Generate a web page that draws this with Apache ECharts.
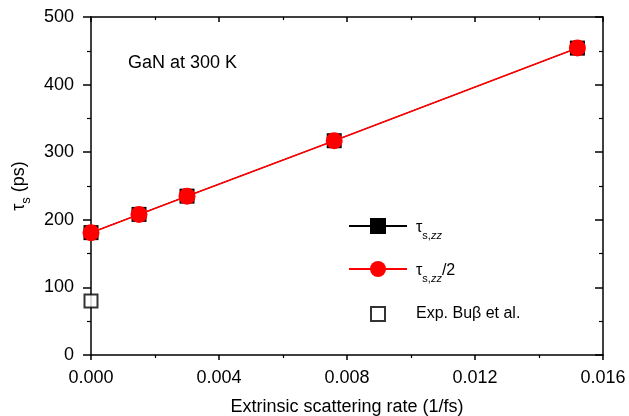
<!DOCTYPE html>
<html>
<head>
<meta charset="utf-8">
<script src="https://cdn.jsdelivr.net/npm/echarts@6/dist/echarts.min.js"></script>
<style>
  html, body { margin: 0; padding: 0; background: #fff; }
  #main { width: 629px; height: 416px; }
</style>
</head>
<body>
<div id="main"></div>
<script>
// 数据
var rates = [0.0, 0.0015, 0.003, 0.0076, 0.0152];
var tauZZ = [181, 208, 235, 317, 454];
var tauZZHalf = [181, 208, 235, 317, 454];
var expRate = [0.0];
var expTau = [80];
var xTicks = ['0.000', '0.004', '0.008', '0.012', '0.016'];

var FONT = 'Liberation Sans';

function pairs(xs, ys) {
    return xs.map(function (x, i) { return [x, ys[i]]; });
}

var myChart = echarts.init(document.getElementById('main'));

// 下标样式
function subRich(size) {
    return {
        t: { fontFamily: FONT, fontSize: size, color: '#000', lineHeight: size + 4, verticalAlign: 'bottom' },
        s: { fontFamily: FONT, fontSize: size - 5, color: '#000', verticalAlign: 'bottom', padding: [0, 0, -5, 0] },
        z: { fontFamily: FONT, fontSize: size - 5, fontStyle: 'italic', color: '#000', verticalAlign: 'bottom', padding: [0, 0, -5, 0] }
    };
}

option = {
    animation: false,
    title: {
        text: 'GaN at 300 K',
        left: 123,
        top: 49,
        textStyle: { fontFamily: FONT, fontSize: 18, fontWeight: 'normal', color: '#000' }
    },
    legend: [{
        data: ['tauZZ', 'tauZZHalf'],
        orient: 'vertical',
        left: 343,
        top: 213,
        itemWidth: 58,
        itemHeight: 20,
        itemGap: 20,
        formatter: function (name) {
            if (name === 'tauZZ') return '{t|τ}{s|s,}{z|zz}';
            return '{t|τ}{s|s,}{z|zz}{t|/2}';
        },
        textStyle: { rich: subRich(16), padding: [0, 0, 0, 4] }
    }, {
        data: ['exp'],
        orient: 'vertical',
        left: 365,
        top: 301,
        itemWidth: 14,
        itemHeight: 14,
        formatter: function () { return 'Exp. Buβ et al.'; },
        textStyle: { fontFamily: FONT, fontSize: 16, color: '#000', padding: [0, 0, 0, 26] }
    }],
    grid: { left: 91, right: 26, top: 17, bottom: 61, outerBoundsMode: 'none' },
    xAxis: [{
        type: 'value',
        min: 0,
        max: 0.016,
        interval: 0.004,
        name: 'Extrinsic scattering rate (1/fs)',
        nameLocation: 'middle',
        nameGap: 43,
        nameTextStyle: { fontFamily: FONT, fontSize: 18, color: '#000' },
        axisLine: { onZero: false, lineStyle: { color: '#000', width: 1.5 } },
        axisTick: { length: 5, lineStyle: { color: '#000', width: 1.5 } },
        minorTick: { show: true, splitNumber: 2, length: 3, lineStyle: { color: '#000', width: 1.2 } },
        axisLabel: {
            margin: 14,
            fontFamily: FONT, fontSize: 18, color: '#000',
            formatter: function (v) { return xTicks[Math.round(v / 0.004)]; }
        },
        splitLine: { show: false }
    }, {
        type: 'value',
        position: 'top',
        min: 0,
        max: 0.016,
        interval: 0.004,
        axisLine: { show: true, onZero: false, lineStyle: { color: '#000', width: 1.5 } },
        axisTick: { inside: true, length: 5, lineStyle: { color: '#000', width: 1.5 } },
        minorTick: { show: true, splitNumber: 2, length: 3, lineStyle: { color: '#000', width: 1.2 } },
        axisLabel: { show: false },
        splitLine: { show: false }
    }],
    yAxis: [{
        type: 'value',
        min: 0,
        max: 500,
        interval: 100,
        name: '{t|τ}{s|s}{t| (ps)}',
        nameLocation: 'middle',
        nameGap: 62,
        nameTextStyle: { rich: subRich(18) },
        axisLine: { onZero: false, lineStyle: { color: '#000', width: 1.5 } },
        axisTick: { length: 8, lineStyle: { color: '#000', width: 1.5 } },
        minorTick: { show: true, splitNumber: 2, length: 4, lineStyle: { color: '#000', width: 1.2 } },
        axisLabel: { margin: 17, fontFamily: FONT, fontSize: 18, color: '#000' },
        splitLine: { show: false }
    }, {
        type: 'value',
        position: 'right',
        min: 0,
        max: 500,
        interval: 100,
        axisLine: { show: true, onZero: false, lineStyle: { color: '#000', width: 1.5 } },
        axisTick: { inside: true, length: 8, lineStyle: { color: '#000', width: 1.5 } },
        minorTick: { show: true, splitNumber: 2, length: 4, lineStyle: { color: '#000', width: 1.2 } },
        axisLabel: { show: false },
        splitLine: { show: false }
    }],
    series: [{
        name: 'tauZZ',
        type: 'line',
        data: pairs(rates, tauZZ),
        symbol: 'rect',
        symbolSize: 15,
        showSymbol: true,
        lineStyle: { color: '#000', width: 1 },
        itemStyle: { color: '#000' },
        z: 2
    }, {
        name: 'tauZZHalf',
        type: 'line',
        data: pairs(rates, tauZZHalf),
        symbol: 'circle',
        symbolSize: 17,
        showSymbol: true,
        lineStyle: { color: '#ff0000', width: 1.6 },
        itemStyle: { color: '#ff0000' },
        z: 3
    }, {
        name: 'exp',
        type: 'scatter',
        data: pairs(expRate, expTau),
        symbol: 'rect',
        symbolSize: 13,
        itemStyle: { color: '#fff', borderColor: '#000', borderWidth: 2 },
        z: 4
    }]
};

myChart.setOption(option);
</script>
</body>
</html>
